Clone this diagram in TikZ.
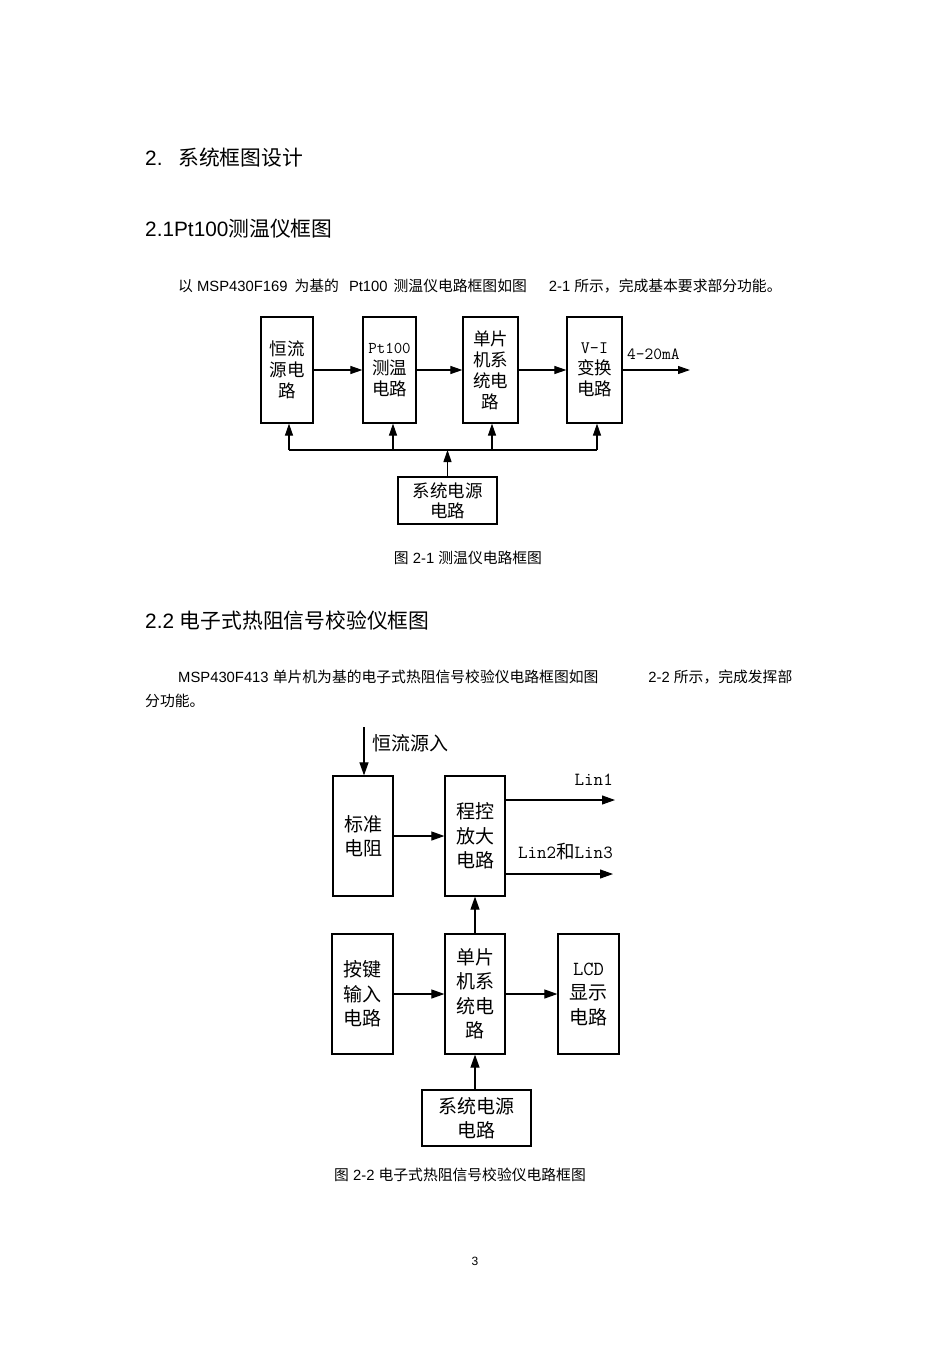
\documentclass[tikz,border=0pt]{standalone}
\usepackage{fontspec}
\setmainfont{Liberation Sans}
\newfontfamily\cjk{Noto Sans CJK SC}
\usetikzlibrary{arrows.meta}
\newcommand\hdfont{\fontsize{20.8}{25}\selectfont}
\newcommand\txtfont{\fontsize{14.8}{24}\selectfont}
\newcommand\lat[2]{{\ttfamily\fontsize{#1}{21}\selectfont #2}}
\tikzset{
  blk/.style={draw, line width=1.2pt, align=center, inner sep=0pt, font=\cjk\fontsize{17.5}{21}\selectfont},
  blkb/.style={blk, font=\cjk\fontsize{19}{24.5}\selectfont},
  arr/.style={line width=1.1pt, -{Triangle[length=12pt,width=8pt]}},
  arrb/.style={line width=1.1pt, -{Triangle[length=13pt,width=9pt]}},
  ln/.style={line width=1.1pt},
  txt/.style={anchor=base west, inner sep=0pt, font=\txtfont},
}
\begin{document}
\begin{tikzpicture}[x=1pt,y=-1pt]
\useasboundingbox[fill=white] (0,0) rectangle (950,1345);
% headings and text
\node[txt, font=\hdfont] (h2) at (145,165) {2.\hspace{15.7pt}{\cjk 系统框图设计}};
\node[txt, font=\hdfont] (h21) at (145,236) {2.1Pt100{\cjk 测温仪框图}};
\node[txt] (p1) at (178,291) {{\cjk 以} MSP430F169\hspace{7pt}{\cjk 为基的}\hspace{10pt}Pt100\hspace{6pt}{\cjk 测温仪电路框图如图}\hspace{22pt}2-1 {\cjk 所示，完成基本要求部分功能。}};
\node[anchor=base, inner sep=0pt, font=\txtfont] (c1) at (468,563) {{\cjk 图} 2-1 {\cjk 测温仪电路框图}};
\node[txt, font=\hdfont] (h22) at (145,628) {2.2 {\cjk 电子式热阻信号校验仪框图}};
\node[txt] (p2) at (178,682) {MSP430F413 {\cjk 单片机为基的电子式热阻信号校验仪电路框图如图}\hspace{50pt}2-2 {\cjk 所示，完成发挥部}};
\node[txt] (p2b) at (145,706) {{\cjk 分功能。}};
\node[anchor=base, inner sep=0pt, font=\txtfont] (c2) at (460,1180) {{\cjk 图} 2-2 {\cjk 电子式热阻信号校验仪电路框图}};
\node[anchor=base, inner sep=0pt, font=\fontsize{12}{12}\selectfont] (pg) at (475,1265) {3};
% figure 2-1
\node[blk, minimum width=52pt, minimum height=106pt] (hl) at (287,370) {恒流\\源电\\路};
\node[blk, minimum width=53pt, minimum height=106pt] (pt) at (389.5,370) {\lat{16.5}{Pt100}\\测温\\电路};
\node[blk, minimum width=55pt, minimum height=106pt] (mcu) at (490.5,370) {单片\\机系\\统电\\路};
\node[blk, minimum width=55pt, minimum height=106pt] (vi) at (594.5,370) {\lat{17.5}{V-I}\\变换\\电路};
\node[blk, minimum width=99pt, minimum height=47pt, font=\cjk\fontsize{17.5}{20}\selectfont] (pw) at (447.5,500.5) {系统电源\\电路};
\coordinate (out) at (690,370);
\node[anchor=west, inner sep=0pt, font=\ttfamily\fontsize{17}{17}\selectfont] (ma) at (627,354) {4-20mA};
\draw[arr] (hl) -- (pt);
\draw[arr] (pt) -- (mcu);
\draw[arr] (mcu) -- (vi);
\draw[arr] (vi) -- (out);
\foreach \b/\x in {hl/289,pt/393,mcu/492,vi/597} {
  \coordinate (t\b) at (\x,450);
  \draw[arr] (t\b) -- (t\b |- \b.south);
}
\draw[ln] (thl) -- (tvi);
\draw[arr] (pw.north) -- (pw.north |- thl);
% figure 2-2
\node[blkb, minimum width=60pt, minimum height=120pt] (std) at (363,836) {标准\\电阻};
\node[blkb, minimum width=60pt, minimum height=120pt] (amp) at (475,836) {程控\\放大\\电路};
\node[blkb, minimum width=61pt, minimum height=120pt] (key) at (362.5,994) {按键\\输入\\电路};
\node[blkb, minimum width=60pt, minimum height=120pt] (mcu2) at (475,994) {单片\\机系\\统电\\路};
\node[blkb, minimum width=61pt, minimum height=120pt] (lcd) at (588.5,994) {\lat{20}{LCD}\\显示\\电路};
\node[blkb, minimum width=109pt, minimum height=56pt] (pw2) at (476.5,1118) {系统电源\\电路};
\coordinate (in) at (364,727);
\node[anchor=west, inner sep=0pt, font=\cjk\fontsize{19}{19}\selectfont] (inl) at (372,743) {恒流源入};
\coordinate (o1) at (615,800);
\coordinate (o2) at (613,874);
\node[anchor=east, inner sep=0pt, font=\ttfamily\fontsize{18.5}{18}\selectfont] (l1) at (613,780) {Lin1};
\node[anchor=east, inner sep=0pt, font=\ttfamily\fontsize{18.5}{18}\selectfont] (l2) at (613,852) {Lin2{\cjk 和}Lin3};
\draw[arrb] (in) -- (in |- std.north);
\draw[arrb] (std) -- (amp);
\draw[arrb] (amp.east |- o1) -- (o1);
\draw[arrb] (amp.east |- o2) -- (o2);
\draw[arrb] (mcu2) -- (amp);
\draw[arrb] (key) -- (mcu2);
\draw[arrb] (mcu2) -- (lcd);
\draw[arrb] (pw2.north -| mcu2) -- (mcu2);
\end{tikzpicture}
\end{document}
